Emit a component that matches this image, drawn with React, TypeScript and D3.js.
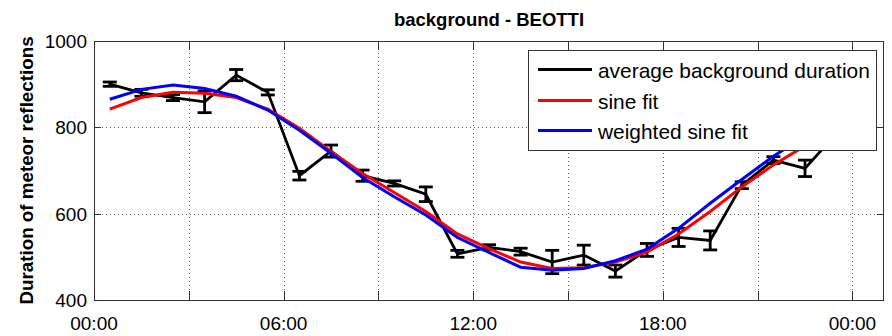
import React, { useEffect, useRef } from 'react'
import * as d3 from 'd3'

// hourly bins (hour of day, bin centres)
const hours = [0.5, 1.5, 2.5, 3.5, 4.5, 5.5, 6.5, 7.5, 8.5, 9.5, 10.5, 11.5,
  12.5, 13.5, 14.5, 15.5, 16.5, 17.5, 18.5, 19.5, 20.5, 21.5, 22.5, 23.5]
const avgDuration = [900, 880, 869, 859, 921, 881, 688, 745, 688, 670, 645, 507,
  522, 512, 488, 504, 467, 516, 545, 538, 666, 724, 705, 786]
const avgError = [5, 8, 7, 25, 13, 6, 10, 14, 13, 6, 17, 8,
  6, 8, 27, 23, 14, 15, 21, 22, 8, 8, 19, 15]
const sineFit = [842, 869, 881, 879, 869, 842, 798, 744, 693, 649, 605, 553,
  519, 488, 473, 475, 488, 511, 553, 605, 662, 713, 757, 802]
const weightedFit = [865, 888, 898, 890, 872, 840, 793, 740, 684, 639, 597, 545,
  510, 476, 469, 473, 491, 518, 566, 624, 679, 733, 780, 830]

const xTicks = [0, 3, 6, 9, 12, 15, 18, 21, 24]
const xLabelTicks = [0, 6, 12, 18, 24]
const yTicks = [400, 600, 800, 1000]
const legendItems = [
  { label: 'average background duration', color: '#000000' },
  { label: 'sine fit', color: '#ff0000' },
  { label: 'weighted sine fit', color: '#0000ff' }
]

const W = 892
const H = 336
const margin = { top: 41, right: 8, bottom: 36, left: 94 }
const font = '"Liberation Sans", Arial, Helvetica, sans-serif'

const App = () => {
  const ref = useRef(null)

  useEffect(() => {
    const svg = d3.select(ref.current)
    svg.selectAll('*').remove()

    const x = d3.scaleLinear().domain([0, 25]).range([margin.left, W - margin.right])
    const y = d3.scaleLinear().domain([400, 1000]).range([H - margin.bottom, margin.top])
    const [x0, x1] = x.range()
    const [y0, y1] = y.range()

    // grid
    const grid = svg.append('g').attr('stroke', '#666').attr('stroke-width', 1)
      .attr('stroke-dasharray', '1,3')
    grid.selectAll('.gx').data(xTicks.filter(t => t > 0)).enter().append('line')
      .attr('x1', d => Math.round(x(d)) + 0.5).attr('x2', d => Math.round(x(d)) + 0.5)
      .attr('y1', y1).attr('y2', y0)
    grid.selectAll('.gy').data(yTicks.filter(t => t > 400 && t < 1000)).enter().append('line')
      .attr('y1', d => Math.round(y(d)) + 0.5).attr('y2', d => Math.round(y(d)) + 0.5)
      .attr('x1', x0).attr('x2', x1)

    // axis box + inward ticks
    const ax = svg.append('g').attr('stroke', '#333').attr('stroke-width', 1).attr('fill', 'none')
    ax.append('rect').attr('x', x0 + 0.5).attr('y', y1 + 0.5)
      .attr('width', x1 - x0 - 1).attr('height', y0 - y1)
    xTicks.forEach(t => {
      const px = Math.round(x(t)) + 0.5
      ax.append('line').attr('x1', px).attr('x2', px).attr('y1', y0).attr('y2', y0 - 9)
      ax.append('line').attr('x1', px).attr('x2', px).attr('y1', y1).attr('y2', y1 + 9)
    })
    yTicks.forEach(t => {
      const py = Math.round(y(t)) + 0.5
      ax.append('line').attr('x1', x0).attr('x2', x0 + 7).attr('y1', py).attr('y2', py)
      ax.append('line').attr('x1', x1).attr('x2', x1 - 7).attr('y1', py).attr('y2', py)
    })

    // tick labels
    svg.append('g').selectAll('text').data(xLabelTicks).enter().append('text')
      .attr('x', d => x(d)).attr('y', 330)
      .attr('text-anchor', 'middle').attr('font-family', font).attr('font-size', 19)
      .text(d => `${String(d % 24).padStart(2, '0')}:00`)
    svg.append('g').selectAll('text').data(yTicks).enter().append('text')
      .attr('x', x0 - 7).attr('y', d => y(d) + 7)
      .attr('text-anchor', 'end').attr('font-family', font).attr('font-size', 19)
      .text(d => d)

    // titles
    svg.append('text').attr('x', (x0 + x1) / 2).attr('y', 26)
      .attr('text-anchor', 'middle').attr('font-family', font)
      .attr('font-size', 18.5).attr('font-weight', 'bold')
      .text('background - BEOTTI')
    svg.append('text')
      .attr('transform', `translate(33,${(y0 + y1) / 2}) rotate(-90)`)
      .attr('text-anchor', 'middle').attr('font-family', font)
      .attr('font-size', 18.8).attr('font-weight', 'bold')
      .text('Duration of meteor reflections')

    const plot = svg.append('g')
    const line = d3.line().x(d => x(d[0])).y(d => y(d[1]))

    // average with error bars
    const eb = plot.append('g').attr('stroke', '#000').attr('stroke-width', 2.8)
    hours.forEach((h, i) => {
      const px = x(h)
      const lo = y(avgDuration[i] - avgError[i])
      const hi = y(avgDuration[i] + avgError[i])
      eb.append('line').attr('x1', px).attr('x2', px).attr('y1', lo).attr('y2', hi)
      eb.append('line').attr('x1', px - 7).attr('x2', px + 7).attr('y1', lo).attr('y2', lo)
      eb.append('line').attr('x1', px - 7).attr('x2', px + 7).attr('y1', hi).attr('y2', hi)
    })
    plot.append('path').datum(hours.map((h, i) => [h, avgDuration[i]]))
      .attr('d', line).attr('fill', 'none').attr('stroke', '#000').attr('stroke-width', 2.8)

    plot.append('path').datum(hours.map((h, i) => [h, sineFit[i]]))
      .attr('d', line).attr('fill', 'none').attr('stroke', '#ff0000').attr('stroke-width', 3)
    plot.append('path').datum(hours.map((h, i) => [h, weightedFit[i]]))
      .attr('d', line).attr('fill', 'none').attr('stroke', '#0000ff').attr('stroke-width', 3)

    // legend
    const lg = svg.append('g')
    lg.append('rect').attr('x', 528.5).attr('y', 50.5).attr('width', 348).attr('height', 100)
      .attr('fill', '#fff').attr('stroke', '#333').attr('stroke-width', 1)
    const rows = [69.5, 100.5, 130.5]
    legendItems.forEach((it, i) => {
      lg.append('line').attr('x1', 538).attr('x2', 592).attr('y1', rows[i]).attr('y2', rows[i])
        .attr('stroke', it.color).attr('stroke-width', 3)
      lg.append('text').attr('x', 598).attr('y', rows[i] + 8)
        .attr('font-family', font).attr('font-size', 20.9).text(it.label)
    })
  }, [])

  return (
    <div style={{ position: 'absolute', left: 0, top: 0 }}>
      <svg ref={ref} width={W} height={H} style={{ display: 'block', background: '#fff' }} />
    </div>
  )
}

export default App
